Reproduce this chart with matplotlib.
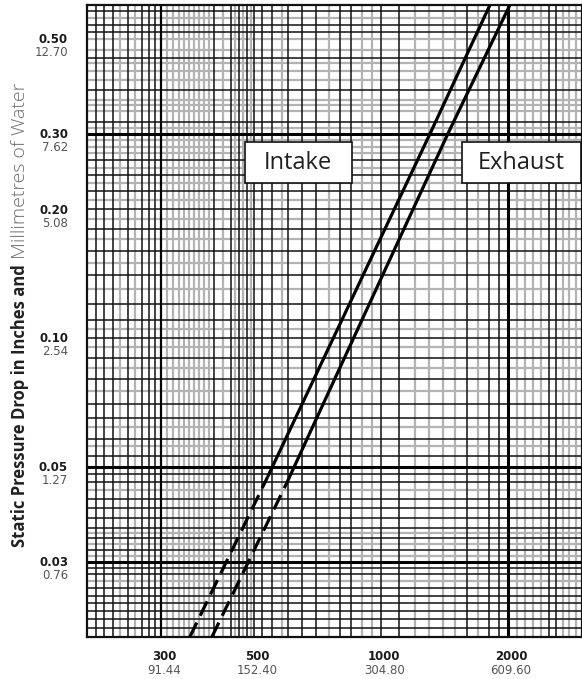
import matplotlib
matplotlib.use("Agg")
import matplotlib.pyplot as plt
from matplotlib.patches import Rectangle

# axis tick values and their labels (inches / mm)
flow_ticks = [300, 500, 1000, 2000]
flow_in_lbl = ["300", "500", "1000", "2000"]
flow_mm_lbl = ["91.44", "152.40", "304.80", "609.60"]
press_ticks = [0.50, 0.30, 0.20, 0.10, 0.05, 0.03]
press_in_lbl = ["0.50", "0.30", "0.20", "0.10", "0.05", "0.03"]
press_mm_lbl = ["12.70", "7.62", "5.08", "2.54", "1.27", "0.76"]

# curves
intake_dash_x = [351, 537]
intake_dash_y = [0.020, 0.0473]
intake_x = [537, 1306, 1813]
intake_y = [0.0473, 0.30, 0.60]
exhaust_dash_x = [396, 597]
exhaust_dash_y = [0.020, 0.0459]
exhaust_x = [597, 1440, 2022]
exhaust_y = [0.0459, 0.30, 0.60]

# graph paper lines
x_black = [200, 210, 220, 230, 250, 270, 280, 290, 400, 440, 460, 480, 500,
           520, 550, 600, 650, 700, 800, 850, 1000, 1100, 1600, 1800, 1900,
           2500, 2600]
x_grey = [240, 260, 310, 320, 330, 340, 350, 360, 370, 380, 390, 420, 450,
          470, 490, 580, 750, 900, 950, 1200, 1300, 1400, 1500, 1700, 2100,
          2200, 2300, 2400, 2700, 2800, 2900]
x_thick = [2000]
x_medium = [300]
y_black = [0.021, 0.022, 0.023, 0.024, 0.025, 0.026, 0.028, 0.029, 0.032,
           0.034, 0.036, 0.038, 0.040, 0.042, 0.046, 0.048, 0.053, 0.058,
           0.065, 0.070, 0.080, 0.090, 0.100, 0.110, 0.120, 0.140, 0.160,
           0.180, 0.200, 0.220, 0.240, 0.260, 0.320, 0.380, 0.450, 0.520,
           0.540, 0.580]
y_grey = [0.027, 0.031, 0.033, 0.035, 0.044, 0.056, 0.062, 0.075, 0.085,
          0.095, 0.105, 0.130, 0.150, 0.170, 0.190, 0.210, 0.230, 0.250,
          0.270, 0.280, 0.290, 0.310, 0.340, 0.350, 0.360, 0.400, 0.420,
          0.440, 0.470, 0.500, 0.560]
y_thick = [0.03, 0.05, 0.30]

fig = plt.figure(figsize=(5.82, 6.79), dpi=100)
ax = fig.add_axes([87 / 582, 42 / 679, 495 / 582, 632 / 679])
ax.set_xscale("log")
ax.set_yscale("log")
ax.set_xlim(200, 3000)
ax.set_ylim(0.02, 0.6)
ax.set_xticks([])
ax.set_yticks([])
ax.minorticks_off()
ax.tick_params(which="both", length=0, labelbottom=False, labelleft=False)

for v in x_grey:
    ax.axvline(v, color="#b3b3b3", lw=1.6, zorder=1)
for v in y_grey:
    ax.axhline(v, color="#b3b3b3", lw=1.6, zorder=1)
for v in x_black:
    ax.axvline(v, color="#111111", lw=1.1, zorder=2)
for v in y_black:
    ax.axhline(v, color="#111111", lw=1.1, zorder=2)
for v in x_medium:
    ax.axvline(v, color="#000000", lw=1.6, zorder=2)
for v in x_thick:
    ax.axvline(v, color="#000000", lw=2.2, zorder=2)
for v in y_thick:
    ax.axhline(v, color="#000000", lw=2.2, zorder=2)

for s in ax.spines.values():
    s.set_linewidth(1.6)
    s.set_color("#111111")

# curves
ax.plot(intake_x, intake_y, color="black", lw=2.3, zorder=4, solid_capstyle="butt")
ax.plot(exhaust_x, exhaust_y, color="black", lw=2.3, zorder=4, solid_capstyle="butt")
ax.plot(intake_dash_x, intake_dash_y, color="black", lw=2.3, zorder=4,
        dashes=(5.0, 2.4), dash_capstyle="butt")
ax.plot(exhaust_dash_x, exhaust_dash_y, color="black", lw=2.3, zorder=4,
        dashes=(5.0, 2.4), dash_capstyle="butt")

# label boxes
for x0, x1, name in [(0.319, 0.535, "Intake"), (0.758, 0.998, "Exhaust")]:
    ax.add_patch(Rectangle((x0, 0.718), x1 - x0, 0.065, transform=ax.transAxes,
                           facecolor="white", edgecolor="#111111", lw=1.2,
                           zorder=5))
    ax.text((x0 + x1) / 2, 0.7505, name, transform=ax.transAxes, ha="center",
            va="center", fontsize=17, family="Open Sans", color="#231f20",
            zorder=6)

# tick labels
for v, a, b in zip(press_ticks, press_in_lbl, press_mm_lbl):
    ax.annotate(a, xy=(0, v), xycoords=("axes fraction", "data"),
                xytext=(-19, -1), textcoords="offset pixels", ha="right",
                va="center", fontsize=8.5, fontweight="bold", color="#1a1a1a")
    ax.annotate(b, xy=(0, v), xycoords=("axes fraction", "data"),
                xytext=(-19, -14), textcoords="offset pixels", ha="right",
                va="center", fontsize=8.5, color="#555555")
for v, a, b in zip(flow_ticks, flow_in_lbl, flow_mm_lbl):
    ax.annotate(a, xy=(v, 0), xycoords=("data", "axes fraction"),
                xytext=(3, -20), textcoords="offset pixels", ha="center",
                va="center", fontsize=8.5, fontweight="bold", color="#1a1a1a")
    ax.annotate(b, xy=(v, 0), xycoords=("data", "axes fraction"),
                xytext=(3, -34), textcoords="offset pixels", ha="center",
                va="center", fontsize=8.5, color="#555555")

# y axis title in two weights
t1 = fig.text(20 / 582, (679 - 547) / 679, "Static Pressure Drop in Inches and",
              rotation=90, ha="center", va="bottom", fontsize=12,
              family="Open Sans", fontweight="bold", color="#231f20")
fig.canvas.draw()
bb = t1.get_window_extent()
fig.text(20 / 582, (bb.y1 + 5) / 679, "Millimetres of Water", rotation=90,
         ha="center", va="bottom", fontsize=14, family="Open Sans",
         fontweight="light", color="#6d6e71")

fig.savefig("out.png", dpi=100)
